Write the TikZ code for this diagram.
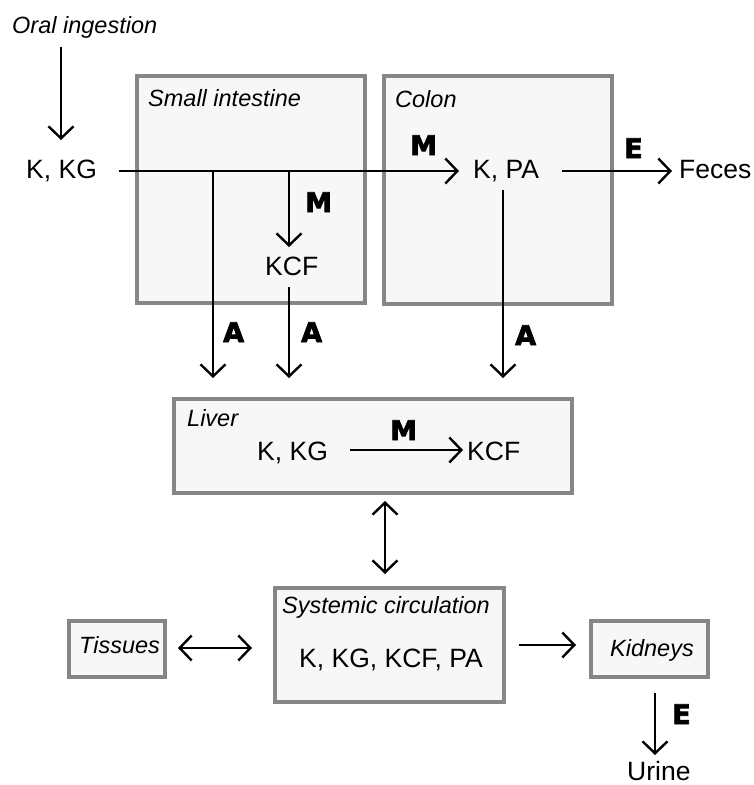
\documentclass[tikz,border=0pt]{standalone}
\usepackage{fontspec}
\setmainfont{Liberation Sans}
\newfontfamily\heavyfont[FakeBold=3]{DejaVu Sans Bold}
\usetikzlibrary{arrows.meta}
\definecolor{boxgray}{HTML}{868686}
\definecolor{boxfill}{HTML}{F7F7F7}
\tikzset{
  compartment/.style={draw=boxgray, line width=4pt, fill=boxfill},
  txt/.style={inner sep=0pt, anchor=base west, font=\fontsize{26.5}{30}\selectfont},
  ttl/.style={inner sep=0pt, anchor=base west, font=\fontsize{23.5}{28}\selectfont\itshape},
  proc/.style={inner sep=0pt, anchor=base west, font=\fontsize{27}{30}\selectfont\heavyfont},
  flow/.style={line width=2.4pt, -{Straight Barb[length=12pt,width=25pt]}},
  flowboth/.style={line width=2.4pt, {Straight Barb[length=12pt,width=25pt]}-{Straight Barb[length=12pt,width=25pt]}}
}
\begin{document}
\begin{tikzpicture}[x=1pt,y=-1pt]
\useasboundingbox (0,0) rectangle (753,785);
% compartments
\draw[compartment] (137,76) rectangle (365,303);
\draw[compartment] (384,76) rectangle (612,304);
\draw[compartment] (174,399) rectangle (572,493);
\draw[compartment] (275,588) rectangle (504,702);
\draw[compartment] (69,621) rectangle (165,677);
\draw[compartment] (591,621) rectangle (708,677);
% texts
\node[ttl] (oral) at (12,33) {Oral ingestion};
\node[txt] (kkg) at (26,178) {K, KG};
\node[ttl] (sitl) at (148,106) {Small intestine};
\node[proc] (msi) at (305,212) {M};
\node[txt] (kcfsi) at (265,275) {KCF};
\node[ttl] (cotl) at (395,107) {Colon};
\node[proc] (mco) at (410,155) {M};
\node[txt] (kpa) at (473,178) {K, PA};
\node[proc] (eco) at (624,158) {E};
\node[txt] (feces) at (679,178) {Feces};
\node[proc] (a1) at (223,342) {A};
\node[proc] (a2) at (301,342) {A};
\node[proc] (a3) at (515,345) {A};
\node[ttl] (livtl) at (187,426) {Liver};
\node[txt] (lkkg) at (257,460) {K, KG};
\node[proc] (mliv) at (390,440) {M};
\node[txt] (lkcf) at (467,460) {KCF};
\node[ttl] (systl) at (282,613) {Systemic circulation};
\node[txt] (sys) at (299,667) {K, KG, KCF, PA};
\node[ttl] (tis) at (79,653) {Tissues};
\node[ttl] (kid) at (610,656) {Kidneys};
\node[proc] (eur) at (672,724) {E};
\node[txt] (urine) at (627,780) {Urine};
% connector points
\coordinate (o1) at (61,47);   \coordinate (o2) at (61,140);
\coordinate (m1) at (119,171); \coordinate (m2) at (459,171);
\coordinate (b1) at (213,171); \coordinate (b1e) at (213,378);
\coordinate (b2) at (289,171); \coordinate (b2e) at (289,247);
\coordinate (k1) at (289,287); \coordinate (k1e) at (289,378);
\coordinate (c1) at (503,190); \coordinate (c1e) at (503,378);
\coordinate (e1) at (562,171); \coordinate (e1e) at (672,171);
\coordinate (l1) at (350,450); \coordinate (l1e) at (463,450);
\coordinate (d1) at (385,501); \coordinate (d1e) at (385,574);
\coordinate (t1) at (178,648); \coordinate (t1e) at (252,648);
\coordinate (r1) at (519,645); \coordinate (r1e) at (576,645);
\coordinate (u1) at (655,693); \coordinate (u1e) at (655,755);
% connectors
\draw[flow] (o1) -- (o2);
\draw[flow] (m1) -- (m2);
\draw[flow] (b1) -- (b1e);
\draw[flow] (b2) -- (b2e);
\draw[flow] (k1) -- (k1e);
\draw[flow] (c1) -- (c1e);
\draw[flow] (e1) -- (e1e);
\draw[flow] (l1) -- (l1e);
\draw[flowboth] (d1) -- (d1e);
\draw[flowboth] (t1) -- (t1e);
\draw[flow] (r1) -- (r1e);
\draw[flow] (u1) -- (u1e);
\end{tikzpicture}
\end{document}
